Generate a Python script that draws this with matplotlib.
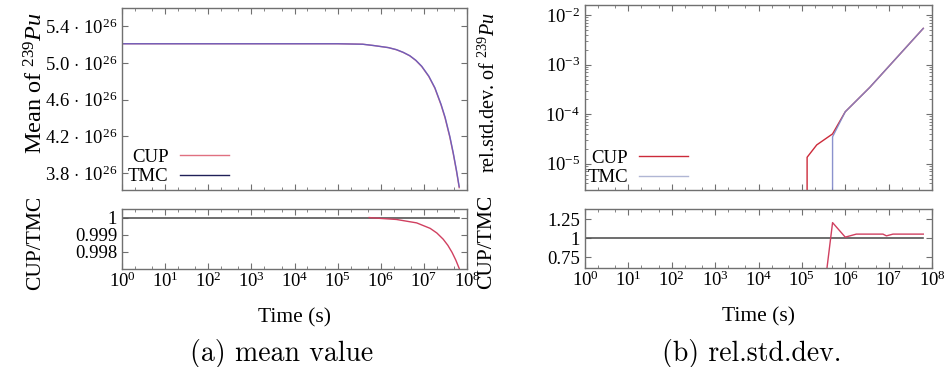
import matplotlib
matplotlib.use("Agg")
import matplotlib.pyplot as plt
import numpy as np
from matplotlib.ticker import LogLocator, NullFormatter

plt.rcParams['font.family'] = ['Liberation Serif', 'DejaVu Serif']
plt.rcParams['mathtext.fontset'] = 'custom'
plt.rcParams['mathtext.rm'] = 'Liberation Serif'
plt.rcParams['mathtext.it'] = 'Liberation Serif:italic'
plt.rcParams['mathtext.bf'] = 'Liberation Serif:bold'

SCALE = 1e26

# (a) mean of Pu-239 (units of 1e26)
time_mean = [1, 1e3, 1e5, 3.8e5, 7e5, 1.5e6, 2.3e6, 3.3e6, 4.7e6, 6.5e6, 8.9e6,
             1.3e7, 1.8e7, 2.5e7, 3.1e7, 4.0e7, 4.8e7, 5.7e7, 6.6e7]
tmc_mean = [5.21, 5.21, 5.21, 5.205, 5.19, 5.168, 5.146, 5.117, 5.08, 5.03, 4.965,
            4.857, 4.73, 4.55, 4.41, 4.20, 4.02, 3.83, 3.65]
cup_mean = [5.21, 5.21, 5.21, 5.205, 5.19, 5.168, 5.145, 5.116, 5.079, 5.028, 4.962,
            4.853, 4.725, 4.543, 4.40, 4.19, 4.01, 3.82, 3.64]
mean_ticks = [3.8, 4.2, 4.6, 5.0, 5.4]

time_ratio_mean = [5.4e5, 1.0e6, 2.3e6, 6.8e6, 1.4e7, 2.0e7, 2.8e7, 3.6e7, 4.5e7, 5.5e7, 6.6e7]
ratio_mean = [1.0, 0.99995, 0.99989, 0.99969, 0.99937, 0.9991, 0.99874, 0.99838,
              0.99797, 0.99752, 0.99703]
ratio_mean_ticks = [0.998, 0.999, 1.0]
ratio_mean_labels = ['0.998', '0.999', '1']

# (b) relative std. dev. of Pu-239
time_cup_rsd = [1e5, 1.32e5, 2.2e5, 5.1e5, 1.0e6, 3.7e6, 6.3e7]
cup_rsd = [0, 1.35e-5, 2.4e-5, 4.0e-5, 1.12e-4, 3.5e-4, 5.4e-3]
time_tmc_rsd = [3.7e5, 5.1e5, 1.0e6, 3.7e6, 6.3e7]
tmc_rsd = [0, 3.5e-5, 1.12e-4, 3.5e-4, 5.4e-3]

time_ratio_rsd = [3.6e5, 5.1e5, 1.0e6, 1.8e6, 7.4e6, 8.9e6, 1.26e7, 6.3e7]
ratio_rsd = [0.5, 1.205, 1.013, 1.053, 1.053, 1.03, 1.053, 1.053]
ratio_rsd_ticks = [0.75, 1.0, 1.25]
ratio_rsd_labels = ['0.75', '1', '1.25']

decades = list(range(0, 9))

W, H = 946, 367
fig = plt.figure(figsize=(W / 100, H / 100), dpi=100)


def px_axes(x0, y0, x1, y1):
    return fig.add_axes([x0 / W, 1 - y1 / H, (x1 - x0) / W, (y1 - y0) / H])


def style(ax, show_x=False):
    ax.set_xscale('log')
    ax.set_xlim(1, 1e8)
    for s in ax.spines.values():
        s.set_color('#707070')
        s.set_linewidth(1)
    ax.tick_params(which='both', direction='in', top=True, right=True,
                   colors='#707070', labelcolor='black', labelsize=13.5)
    ax.tick_params(which='major', length=4)
    ax.tick_params(which='minor', length=2)
    ax.xaxis.set_major_locator(LogLocator(base=10, numticks=20))
    ax.xaxis.set_minor_locator(LogLocator(base=10, subs=(2.0, 5.0), numticks=20))
    ax.xaxis.set_minor_formatter(NullFormatter())
    if show_x:
        ax.set_xticks([10.0 ** d for d in decades])
        ax.set_xticklabels([r'$10^{%d}$' % d for d in decades])
        ax.tick_params(axis='x', pad=2)
    else:
        ax.set_xticklabels([])


legend_kw = dict(loc='lower left', frameon=False, markerfirst=False, fontsize=13.5,
                 handlelength=2.6, handletextpad=0.6, labelspacing=0.12, borderpad=0)

# ---- panel (a)
ax1 = px_axes(122, 8, 467, 190)
ax2 = px_axes(122, 209, 467, 269)
style(ax1)
style(ax2, show_x=True)

ax1.plot(time_mean, np.array(cup_mean) * SCALE, color='#e07080', lw=1, label='CUP')
ax1.plot(time_mean, np.array(tmc_mean) * SCALE, color='#5a5ac4', lw=1, alpha=0.85, label='TMC')
ax1.set_ylim(3.615 * SCALE, 5.6 * SCALE)
ax1.set_yticks([v * SCALE for v in mean_ticks])
ax1.set_yticklabels([r'$%.1f\,\cdot\,10^{26}$' % v for v in mean_ticks])
ax1.yaxis.set_minor_locator(plt.NullLocator())
ax1.set_ylabel(r'Mean of $^{239}Pu$', fontsize=17.5)
ax1.yaxis.set_label_coords(-0.215, 0.59)
leg1 = ax1.legend(bbox_to_anchor=(-0.01, -0.025), **legend_kw)
leg1.get_lines()[1].set_color('#202058')
leg1.get_lines()[1].set_alpha(1)

ax2.plot([time_mean[0], time_mean[-1]], [1, 1], color='#555555', lw=1.2)
ax2.plot(time_ratio_mean, ratio_mean, color='#d04060', lw=1)
ax2.set_ylim(0.997, 1.0005)
ax2.set_yticks(ratio_mean_ticks)
ax2.set_yticklabels(ratio_mean_labels)
ax2.yaxis.set_minor_locator(plt.NullLocator())
ax2.set_ylabel('CUP/TMC', fontsize=15.5)
ax2.yaxis.set_label_coords(-0.222, 0.43)
ax2.set_xlabel('Time (s)', fontsize=15.5, labelpad=12)

# ---- panel (b)
ax3 = px_axes(585, 5, 932, 190)
ax4 = px_axes(585, 209, 932, 268)
style(ax3)
style(ax4, show_x=True)

ax3.set_yscale('log')
ax3.plot(time_cup_rsd, cup_rsd, color='#cc2a3a', lw=1, label='CUP')
ax3.plot(time_tmc_rsd, tmc_rsd, color='#7f86c8', lw=1, alpha=0.9, label='TMC')
ax3.set_ylim(2.95e-6, 1.6e-2)
ax3.set_yticks([1e-5, 1e-4, 1e-3, 1e-2])
ax3.set_yticklabels([r'$10^{-5}$', r'$10^{-4}$', r'$10^{-3}$', r'$10^{-2}$'])
ax3.yaxis.set_minor_locator(LogLocator(base=10, subs=np.arange(2, 10), numticks=20))
ax3.yaxis.set_minor_formatter(NullFormatter())
ax3.set_ylabel(r'rel.std.dev. of $^{239}Pu$', fontsize=14.5)
ax3.yaxis.set_label_coords(-0.245, 0.53)
leg3 = ax3.legend(bbox_to_anchor=(-0.02, -0.03), **legend_kw)
leg3.get_lines()[1].set_color('#a8aed0')

ax4.plot([time_mean[0], time_cup_rsd[-1]], [1, 1], color='#555555', lw=1.2)
ax4.plot(time_ratio_rsd, ratio_rsd, color='#d04060', lw=1)
ax4.set_ylim(0.605, 1.385)
ax4.set_yticks(ratio_rsd_ticks)
ax4.set_yticklabels(ratio_rsd_labels)
ax4.yaxis.set_minor_locator(plt.NullLocator())
ax4.set_ylabel('CUP/TMC', fontsize=15.5)
ax4.yaxis.set_label_coords(-0.255, 0.44)
ax4.set_xlabel('Time (s)', fontsize=15.5, labelpad=12)

# captions
fig.text(282 / W, 1 - 353 / H, '(a) mean value', fontfamily='cmr10',
         fontsize=20, ha='center', va='center')
fig.text(752 / W, 1 - 353 / H, '(b) rel.std.dev.', fontfamily='cmr10',
         fontsize=20, ha='center', va='center')

fig.savefig('out.png', dpi=100)
